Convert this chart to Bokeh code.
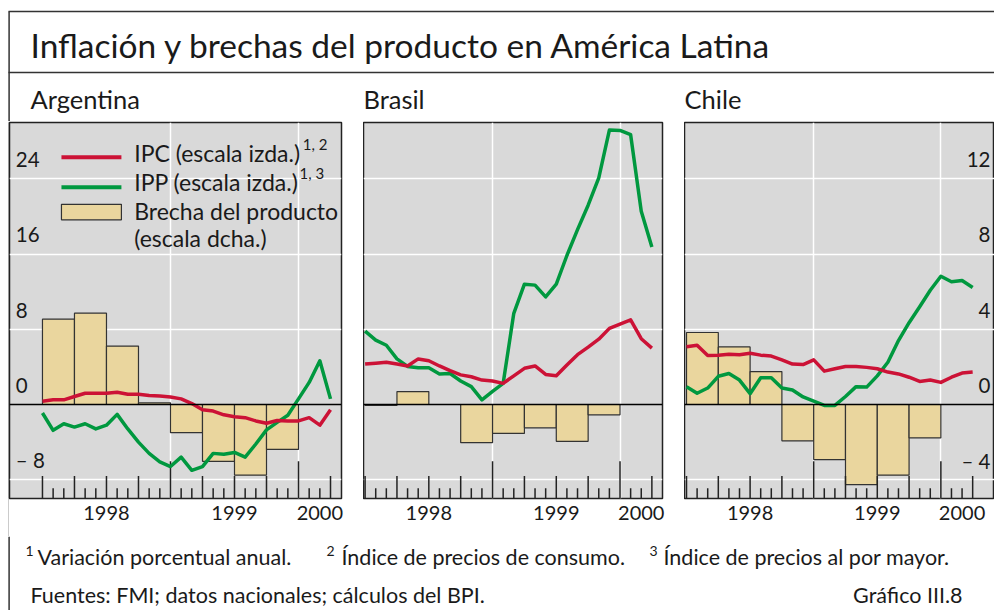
from bokeh.plotting import figure
from bokeh.layouts import column, row
from bokeh.models import Range1d, FixedTicker, Span, Spacer
from bokeh.core.properties import value
from bokeh.embed import file_html
from bokeh.resources import INLINE

FONT = "Lato"
RED = "#cc1236"
GREEN = "#00983f"
BAR = "#ead69e"
BG = "#d9d9d9"
INK = "#1a1a1a"

# ---------------- data ----------------
TITLE = "Inflación y brechas del producto en América Latina"
countries = ["Argentina", "Brasil", "Chile"]
months = list(range(28))            # monthly index, 0 = Jan 1998 ... 27 = Apr 2000
quarters = [1.5, 4.5, 7.5, 10.5, 13.5, 16.5, 19.5, 22.5]   # 1998Q1 ... 1999Q4 (centres)
year_ticks = [6, 18, 26]
year_labels = ["1998", "1999", "2000"]
left_ticks = [-8, 0, 8, 16, 24]
left_labels = ["\u2013 8", "0", "8", "16", "24"]
right_ticks = [-4, 0, 4, 8, 12]
right_labels = ["\u2013 4", "0", "4", "8", "12"]

arg_ipc = [0.35, 0.5, 0.5, 0.85, 1.2, 1.2, 1.2, 1.3, 1.1, 1.1, 0.95, 0.9, 0.8, 0.6,
           0.1, -0.55, -0.7, -1.1, -1.3, -1.4, -1.75, -2.0, -1.7, -1.75, -1.75, -1.4, -2.2, -0.55]
arg_ipp = [-0.9, -2.75, -2.05, -2.4, -2.05, -2.6, -2.2, -1.05, -2.6, -4.0, -5.2, -6.1, -6.6, -5.6,
           -7.0, -6.6, -5.2, -5.3, -5.1, -5.6, -4.2, -2.7, -1.9, -1.15, 0.6, 2.35, 4.65, 0.6]
arg_gap = [4.54, 4.86, 3.11, 0.09, -1.50, -3.02, -3.76, -2.39]

bra_ipc = [4.3, 4.4, 4.5, 4.3, 4.1, 4.85, 4.65, 4.1, 3.6, 3.15, 2.95, 2.6, 2.5, 2.25,
           3.05, 3.85, 4.1, 3.2, 3.05, 4.2, 5.3, 6.1, 6.95, 8.1, 8.55, 9.0, 7.0, 6.0]
bra_ipp = [7.8, 6.85, 6.3, 4.85, 4.05, 3.9, 3.9, 3.25, 3.3, 2.5, 1.9, 0.5, 1.4, 2.25,
           9.7, 12.8, 12.7, 11.45, 12.8, 15.85, 18.6, 21.2, 24.1, 29.2, 29.15, 28.7, 20.55, 16.75]
bra_gap = [-0.05, 0.69, 0.0, -2.03, -1.54, -1.24, -1.96, -0.55]

chi_ipc = [6.15, 6.3, 5.2, 5.25, 5.35, 5.3, 5.45, 5.25, 5.15, 4.75, 4.3, 4.25, 4.75, 3.55,
           3.8, 4.05, 4.05, 3.95, 3.8, 3.45, 3.25, 2.9, 2.45, 2.6, 2.35, 2.9, 3.35, 3.45]
chi_ipp = [1.9, 1.2, 1.75, 3.0, 3.3, 2.6, 1.15, 2.85, 2.85, 1.75, 1.55, 0.8, 0.35, -0.1,
           -0.1, 0.85, 1.9, 1.85, 3.05, 4.5, 6.8, 8.7, 10.4, 12.15, 13.65, 13.05, 13.2, 12.45]
chi_gap = [3.83, 3.06, 1.75, -1.93, -2.93, -4.26, -3.76, -1.78]

legend_labels = ["IPC (escala izda.)", "IPP (escala izda.)", "Brecha del producto", "(escala dcha.)"]
legend_sups = ["1, 2", "1, 3"]
foot_sups = ["1", "2", "3"]
foot_texts = ["Variación porcentual anual.", "Índice de precios de consumo.",
              "Índice de precios al por mayor."]
source_text = "Fuentes: FMI; datos nacionales; cálculos del BPI."
chart_id = "Gráfico III.8"

# ---------------- layout constants (page pixels) ----------------
W = 994
HDR_H = 121
PANEL_H = 415
FOOT_H = 74
GAP = 22
COMMON = dict(output_backend="svg", toolbar_location=None)


def tfont(px):
    return dict(text_font=value(FONT), text_font_size=f"{px}px", text_color=INK)


def panel(x0, x1, frame_w, right_gap, ipc, ipp, gap):
    p = figure(width=frame_w + right_gap, height=PANEL_H,
               x_range=Range1d(x0, x1), y_range=Range1d(-10, 30),
               y_axis_location=None, min_border_left=0, min_border_right=right_gap,
               min_border_top=1, min_border_bottom=38,
               background_fill_color=BG, border_fill_color="white",
               outline_line_color="#222", outline_line_width=1.5, **COMMON)
    p.extra_y_ranges = {"gap": Range1d(-5, 15)}
    p.xgrid.ticker = FixedTicker(ticks=[12, 24])
    p.ygrid.ticker = FixedTicker(ticks=[-8, 8, 16, 24])
    for g in (p.xgrid, p.ygrid):
        g.grid_line_color = "white"
        g.grid_line_width = 1.5
    ax = p.xaxis[0]
    ax.ticker = FixedTicker(ticks=year_ticks)
    ax.major_label_overrides = dict(zip(year_ticks, year_labels))
    ax.axis_line_color = None
    ax.major_tick_line_color = None
    ax.minor_tick_line_color = None
    ax.major_tick_in = 0
    ax.major_tick_out = 0
    ax.major_label_standoff = 7
    ax.major_label_text_font = FONT
    ax.major_label_text_font_size = "20px"
    ax.major_label_text_color = INK
    # output-gap bars (right scale)
    p.vbar(x=quarters, width=3, top=gap, bottom=0, y_range_name="gap",
           fill_color=BAR, line_color="#333", line_width=1.2)
    # month / quarter / year ticks along the bottom
    tick_top = [(-6.05 if m in (12, 24) else (-7.6 if m % 3 == 0 else -8.9)) for m in months]
    p.segment(x0=months, y0=[-10] * len(months), x1=months, y1=tick_top,
              line_color="#222", line_width=1.5)
    p.add_layout(Span(location=0, dimension="width", line_color="black", line_width=1.6))
    # inflation lines (left scale)
    p.line(months, ipp, line_color=GREEN, line_width=3.5, line_join="round")
    p.line(months, ipc, line_color=RED, line_width=3.5, line_join="round")
    return p


arg = panel(-3.09, 28.03, 332, GAP, arg_ipc, arg_ipp, arg_gap)
bra = panel(-0.15, 28.0, 299, GAP, bra_ipc, bra_ipp, bra_gap)
chi = panel(-0.19, 29.06, 310, 0, chi_ipc, chi_ipp, chi_gap)

# left-scale tick labels (inside Argentina panel)
arg.text(x=[-2.5] * len(left_ticks), y=[v + 2.05 for v in left_ticks], text=left_labels,
         text_align="left", text_baseline="alphabetic", **tfont(20.5))
# right-scale tick labels (inside Chile panel)
chi.text(x=[28.68] * len(right_ticks), y=[v + 1.02 for v in right_ticks], text=right_labels,
         text_align="right", text_baseline="alphabetic", y_range_name="gap", **tfont(20.5))

# legend (Argentina panel)
arg.segment(x0=[1.78, 1.78], y0=[26.3, 23.1], x1=[7.4, 7.4], y1=[26.3, 23.1],
            line_color=[RED, GREEN], line_width=4)
arg.quad(left=[1.78], right=[7.4], top=[21.3], bottom=[19.65],
         fill_color=BAR, line_color="#333", line_width=1.2)
arg.text(x=[8.6] * 4, y=[26.8, 23.65, 20.6, 17.75], text=legend_labels,
         text_align="left", text_baseline="alphabetic", **tfont(23))
arg.text(x=[24.4, 24.1], y=[27.7, 24.6], text=legend_sups,
         text_align="left", text_baseline="alphabetic", **tfont(15))

# left margin and thin frame line left of Argentina panel
margin = Spacer(width=8, height=PANEL_H)
edge = figure(width=1, height=PANEL_H, min_border=0, x_axis_location=None, y_axis_location=None,
              background_fill_color="#333", border_fill_color="#333", outline_line_color=None,
              **COMMON)
edge.grid.visible = False

# header (coordinates = page pixels)
hdr = figure(width=W, height=HDR_H, x_range=Range1d(0, W), y_range=Range1d(HDR_H, 0),
             min_border=0, x_axis_location=None, y_axis_location=None,
             outline_line_color=None, **COMMON)
hdr.grid.visible = False
hdr.segment(x0=[8, 8, 8.6], y0=[11, 72, 11], x1=[W, W, 8.6], y1=[11, 72, HDR_H],
            line_color="#333", line_width=1.5)
hdr.text(x=[30], y=[44], text=[TITLE], text_baseline="middle", **tfont(33.5))
hdr.text(x=[30, 363, 684], y=[98, 98, 98], text=countries, text_baseline="middle", **tfont(25.5))

# footer (coordinates = page pixels minus 536)
ftr = figure(width=W, height=FOOT_H, x_range=Range1d(0, W), y_range=Range1d(FOOT_H, 0),
             min_border=0, x_axis_location=None, y_axis_location=None,
             outline_line_color=None, **COMMON)
ftr.grid.visible = False
ftr.segment(x0=[8.6], y0=[0], x1=[8.6], y1=[FOOT_H], line_color="#333", line_width=1.5)
ftr.text(x=[25, 326, 649], y=[14, 14, 14], text=foot_sups, text_baseline="middle", **tfont(14))
ftr.text(x=[37, 341, 663], y=[20, 20, 20], text=foot_texts, text_baseline="middle", **tfont(21.5))
ftr.text(x=[30], y=[58], text=[source_text], text_baseline="middle", **tfont(21.5))
ftr.text(x=[962], y=[58], text=[chart_id], text_align="right", text_baseline="middle", **tfont(21.5))

layout = column(hdr, row(margin, edge, arg, bra, chi), ftr)

open("out.html", "w").write(file_html(layout, INLINE))
